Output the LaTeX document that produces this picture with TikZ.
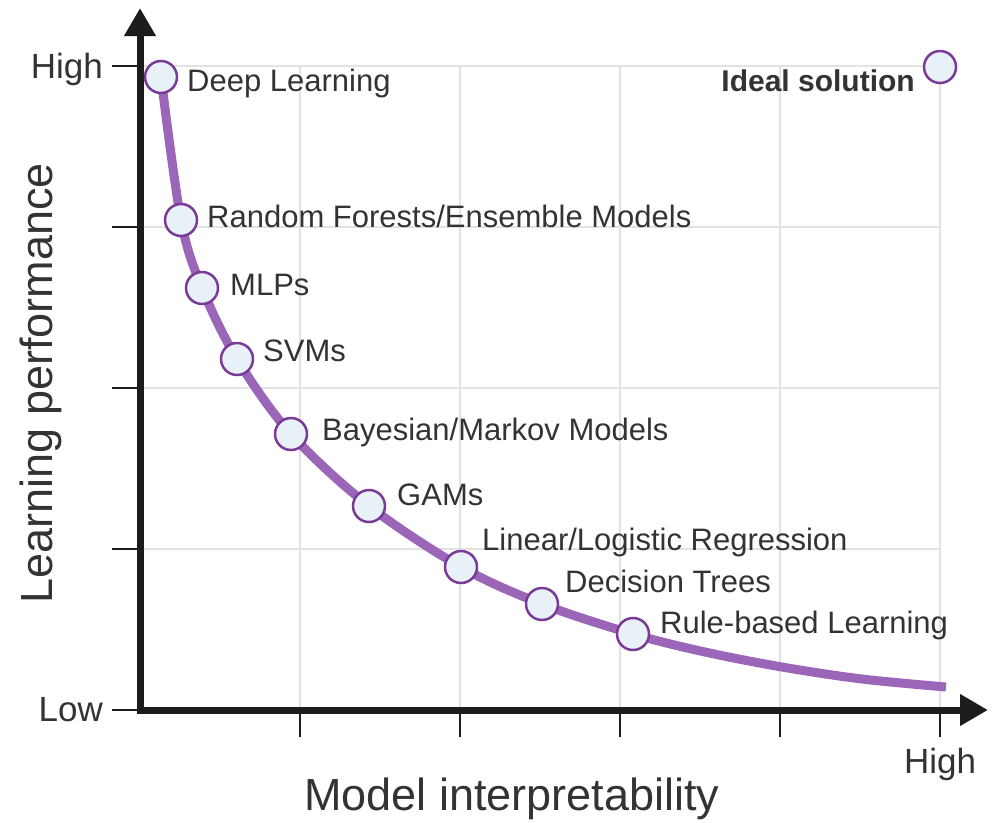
\documentclass[tikz,border=0pt]{standalone}
\usepackage{fontspec}
\setmainfont{Liberation Sans}
\usetikzlibrary{arrows.meta}
\definecolor{curvecol}{HTML}{9B66B8}
\definecolor{dotedge}{HTML}{7A3B98}
\definecolor{dotfill}{HTML}{E9F1F8}
\definecolor{gridcol}{HTML}{E2E2E2}
\definecolor{axiscol}{HTML}{1C1C1C}
\definecolor{txtcol}{HTML}{333333}
\tikzset{
  gridline/.style={draw=gridcol, line width=2pt},
  axisline/.style={draw=axiscol, line width=7pt, -{Triangle[length=28pt,width=30pt]}},
  tickline/.style={draw=axiscol, line width=2.5pt},
  curveline/.style={draw=curvecol, line width=9pt},
  dot/.style={circle, draw=dotedge, fill=dotfill, line width=2.5pt, minimum size=32pt, inner sep=0pt},
  lbl/.style={anchor=base west, inner sep=0pt, text=txtcol, font=\fontsize{31}{31}\selectfont},
  ticklbl/.style={inner sep=0pt, text=txtcol, font=\fontsize{35}{35}\selectfont},
  axtitle/.style={inner sep=0pt, text=txtcol, font=\fontsize{45}{45}\selectfont},
}
\begin{document}
\begin{tikzpicture}[x=1pt,y=-1pt]
\useasboundingbox (0,0) rectangle (992,822);
% grid
\foreach \gx in {300,460,620,780,940} \draw[gridline] (\gx,66) -- (\gx,710);
\foreach \gy in {66,227,388,549} \draw[gridline] (140,\gy) -- (940,\gy);
% ticks
\foreach \gy in {66,227,388,549,710} \draw[tickline] (112,\gy) -- (140,\gy);
\foreach \gx in {300,460,620,780,940} \draw[tickline] (\gx,710) -- (\gx,737);
% axes
\coordinate (origin) at (140,710);
\coordinate (ytop) at (140,8);
\coordinate (xend) at (988,710);
\draw[axisline] (140,713.5) -- (ytop);
\draw[axisline] (136.5,710) -- (xend);
% curve points
\coordinate (p1) at (161,77);
\coordinate (p2) at (181,220);
\coordinate (p3) at (202,288);
\coordinate (p4) at (237,359);
\coordinate (p5) at (291,434);
\coordinate (p6) at (369,506);
\coordinate (p7) at (461,567);
\coordinate (p8) at (542,604);
\coordinate (p9) at (633,634);
\coordinate (pa) at (705,652);
\coordinate (pb) at (782,667);
\coordinate (pc) at (862,679);
\coordinate (pe) at (946,687);
\draw[curveline] plot[smooth, tension=0.55] coordinates {(p1) (p2) (p3) (p4) (p5) (p6) (p7) (p8) (p9) (pa) (pb) (pc) (pe)};
% dots
\node[dot] (dl) at (p1) {};
\node[dot] (rf) at (p2) {};
\node[dot] (mlp) at (p3) {};
\node[dot] (svm) at (p4) {};
\node[dot] (bay) at (p5) {};
\node[dot] (gam) at (p6) {};
\node[dot] (lin) at (p7) {};
\node[dot] (dt) at (p8) {};
\node[dot] (rb) at (p9) {};
\node[dot] (ideal) at (940,67) {};
% labels
\node[lbl] (tdl) at (187,91) {Deep Learning};
\node[lbl] (trf) at (207,227) {Random Forests/Ensemble Models};
\node[lbl] (tmlp) at (230,295) {MLPs};
\node[lbl] (tsvm) at (263,361) {SVMs};
\node[lbl] (tbay) at (322,440) {Bayesian/Markov Models};
\node[lbl] (tgam) at (397,505) {GAMs};
\node[lbl] (tlin) at (482,550) {Linear/Logistic Regression};
\node[lbl] (tdt) at (565,592) {Decision Trees};
\node[lbl] (trb) at (660,633) {Rule-based Learning};
\node[lbl, anchor=base east, font=\fontsize{30}{30}\selectfont\bfseries] (tideal) at (915,91) {Ideal solution};
% tick labels
\node[ticklbl, anchor=base east] (yhigh) at (103,78) {High};
\node[ticklbl, anchor=base east] (ylow) at (103,721) {Low};
\node[ticklbl, anchor=base] (xhigh) at (940,773) {High};
% axis titles
\node[axtitle, anchor=base] (xtitle) at (512,810) {Model interpretability};
\node[axtitle, anchor=base, rotate=90] (ytitle) at (52,383) {Learning performance};
\end{tikzpicture}
\end{document}
